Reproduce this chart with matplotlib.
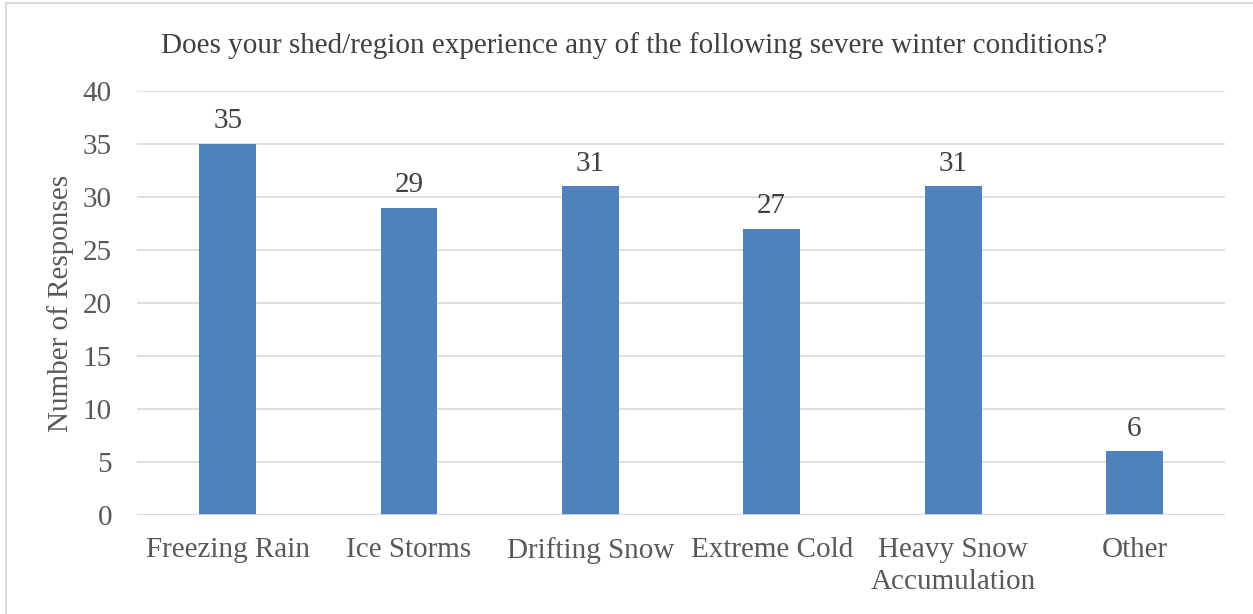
import matplotlib
matplotlib.use("Agg")
import matplotlib.pyplot as plt
from matplotlib.lines import Line2D

categories = ["Freezing Rain", "Ice Storms", "Drifting Snow", "Extreme Cold", "Heavy Snow\nAccumulation", "Other"]
values = [35, 29, 31, 27, 31, 6]
yticks = [0, 5, 10, 15, 20, 25, 30, 35, 40]
title = "Does your shed/region experience any of the following severe winter conditions?"
ylabel = "Number of Responses"

plt.rcParams['font.family'] = ['Liberation Serif', 'DejaVu Serif']
text_color = "#595959"
bar_color = "#4F81BD"
grid_color = "#D9D9D9"
fs = 21

fig = plt.figure(figsize=(12.53, 6.14), dpi=100)
ax = fig.add_axes([0.1093, 0.1612, 0.8684, 0.6906])

x = list(range(len(categories)))
bars = ax.bar(x, values, width=0.314, color=bar_color, zorder=3)
for xi, v in zip(x, values):
    ax.annotate(str(v), (xi, v), xytext=(0, 7), textcoords="offset points",
                ha="center", va="bottom", fontsize=fs, color="#404040")

ax.set_xlim(-0.5, len(categories) - 0.5)
ax.set_ylim(0, 40)
ax.set_yticks(yticks)
ax.set_yticklabels([str(t) for t in yticks], fontsize=fs, color=text_color)
ax.set_xticks(x)
ax.set_xticklabels(categories, fontsize=fs, color=text_color, linespacing=1.3)
ax.tick_params(axis="y", length=0, pad=18)
ax.tick_params(axis="x", length=0, pad=16)
ax.yaxis.grid(True, color=grid_color, linewidth=1.2, zorder=0)
for s in ax.spines.values():
    s.set_visible(False)
ax.axhline(0, color=grid_color, linewidth=1.2, zorder=4)

ax.set_ylabel(ylabel, fontsize=fs, color=text_color, labelpad=6)
fig.text(0.506, 0.926, title, ha="center", va="center", fontsize=fs, color="#404040")

# border
fig.add_artist(Line2D([0.005, 0.005], [0, 0.995], transform=fig.transFigure, color="#D9D9D9", linewidth=1.5))
fig.add_artist(Line2D([0.005, 1.0], [0.995, 0.995], transform=fig.transFigure, color="#D9D9D9", linewidth=1.5))

fig.savefig("out.png", dpi=100)
